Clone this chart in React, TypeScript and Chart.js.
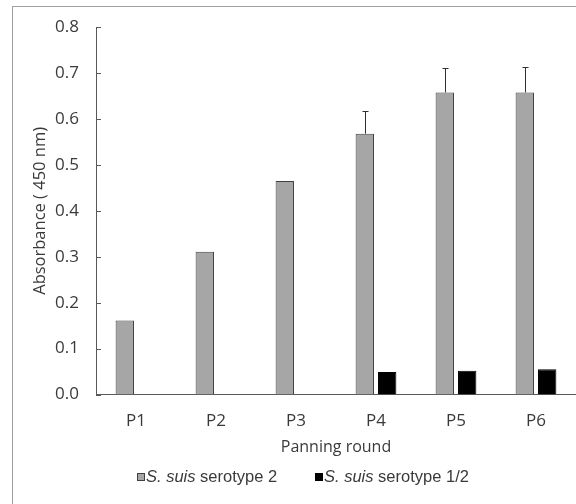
import React, { useEffect, useRef } from "react";
import { Chart, registerables } from "chart.js";

Chart.register(...registerables);

const categories = ["P1", "P2", "P3", "P4", "P5", "P6"];
const serotype2 = [0.161, 0.311, 0.465, 0.568, 0.658, 0.658];
const serotype2Err = [0, 0, 0, 0.049, 0.053, 0.055];
const serotype12 = [null, null, null, 0.049, 0.052, 0.055];
const yTicks = [0, 0.1, 0.2, 0.3, 0.4, 0.5, 0.6, 0.7, 0.8];
const legendLabels = [
  { italic: "S. suis", rest: " serotype 2" },
  { italic: "S. suis", rest: " serotype 1/2" },
];

const TEXT = "#3a3a3a";
const AXIS = "#595959";
const FONT = "'Open Sans', sans-serif";

const framePlugin = {
  id: "frame",
  beforeDraw(chart: any) {
    const ctx = chart.ctx;
    ctx.save();
    ctx.fillStyle = "#ffffff";
    ctx.fillRect(0, 0, chart.width, chart.height);
    ctx.strokeStyle = "#a0a0a0";
    ctx.lineWidth = 1;
    ctx.strokeRect(12.5, 6.5, chart.width + 20, chart.height + 20);
    ctx.restore();
  },
};

const innerTicksPlugin = {
  id: "innerTicks",
  afterDraw(chart: any) {
    const ctx = chart.ctx;
    const ys = chart.scales.y;
    const left = chart.chartArea.left;
    ctx.save();
    ctx.strokeStyle = AXIS;
    ctx.lineWidth = 1;
    yTicks.forEach((v) => {
      const y = Math.round(ys.getPixelForValue(v)) + 0.5;
      ctx.beginPath();
      ctx.moveTo(left, y);
      ctx.lineTo(left + 5, y);
      ctx.stroke();
    });
    ctx.restore();
  },
};

const errorBarPlugin = {
  id: "errorBars",
  afterDatasetsDraw(chart: any) {
    const ctx = chart.ctx;
    const ys = chart.scales.y;
    const meta = chart.getDatasetMeta(0);
    ctx.save();
    ctx.strokeStyle = "#303030";
    ctx.lineWidth = 1;
    meta.data.forEach((bar: any, i: number) => {
      const err = serotype2Err[i];
      if (!err) return;
      const x = Math.round(bar.x) + 0.5;
      const yTop = ys.getPixelForValue(serotype2[i] + err);
      ctx.beginPath();
      ctx.moveTo(x, bar.y);
      ctx.lineTo(x, yTop);
      ctx.moveTo(x - 3, Math.round(yTop) + 0.5);
      ctx.lineTo(x + 3, Math.round(yTop) + 0.5);
      ctx.stroke();
    });
    ctx.restore();
  },
};

const legendPlugin = {
  id: "customLegend",
  afterDraw(chart: any) {
    const ctx = chart.ctx;
    const cy = 477;
    const starts = [137, 315];
    const fills = ["#a6a6a6", "#000000"];
    ctx.save();
    ctx.textBaseline = "middle";
    legendLabels.forEach((lab, i) => {
      const x0 = starts[i];
      ctx.fillStyle = fills[i];
      ctx.fillRect(x0, cy - 4, 8, 8);
      ctx.strokeStyle = i === 0 ? "#404040" : "#000000";
      ctx.lineWidth = 1;
      ctx.strokeRect(x0 + 0.5, cy - 3.5, 7, 7);
      ctx.fillStyle = TEXT;
      ctx.font = "italic 16.5px 'Liberation Sans', Arial, sans-serif";
      let x = x0 + 9;
      ctx.fillText(lab.italic, x, cy);
      x += ctx.measureText(lab.italic).width;
      ctx.font = "16.5px 'Liberation Sans', Arial, sans-serif";
      ctx.fillText(lab.rest, x, cy);
    });
    ctx.restore();
  },
};

export default function App() {
  const ref = useRef<HTMLCanvasElement | null>(null);
  useEffect(() => {
    if (!ref.current) return;
    const chart = new Chart(ref.current, {
      type: "bar",
      data: {
        labels: categories,
        datasets: [
          {
            label: "S. suis serotype 2",
            data: serotype2,
            backgroundColor: "#a6a6a6",
            borderColor: "#404040",
            borderWidth: 1,
            categoryPercentage: 0.56,
            barPercentage: 0.82,
          },
          {
            label: "S. suis serotype 1/2",
            data: serotype12 as any,
            backgroundColor: "#000000",
            borderColor: "#000000",
            borderWidth: 1,
            categoryPercentage: 0.56,
            barPercentage: 0.82,
          },
        ],
      },
      options: {
        responsive: false,
        animation: false,
        layout: { padding: { top: 23, right: 0, bottom: 33, left: 0 } },
        plugins: {
          legend: { display: false },
          tooltip: { enabled: false },
        },
        scales: {
          x: {
            grid: { display: false, drawTicks: false },
            border: { color: AXIS, width: 1 },
            ticks: {
              padding: 16,
              color: TEXT,
              font: { family: FONT, size: 17 },
            },
            title: {
              display: true,
              text: "Panning round",
              color: TEXT,
              font: { family: FONT, size: 16 },
              padding: { top: 4, bottom: 14 },
            },
            afterFit: (s: any) => {
              s.height = 76.5;
            },
          },
          y: {
            min: 0,
            max: 0.8,
            afterBuildTicks: (s: any) => {
              s.ticks = yTicks.map((v) => ({ value: v }));
            },
            grid: { display: false, drawTicks: false },
            border: { color: AXIS, width: 1 },
            ticks: {
              padding: 17,
              color: TEXT,
              font: { family: FONT, size: 17 },
              callback: (v: any) => Number(v).toFixed(1),
            },
            title: {
              display: true,
              text: "Absorbance ( 450 nm)",
              color: TEXT,
              font: { family: FONT, size: 16.5 },
              padding: { top: 30, bottom: 0 },
            },
            afterFit: (s: any) => {
              s.width = 96;
            },
          },
        },
      },
      plugins: [framePlugin, errorBarPlugin, innerTicksPlugin, legendPlugin],
    });
    return () => chart.destroy();
  }, []);
  return (
    <div style={{ position: "absolute", left: 0, top: 0, width: 576, height: 504 }}>
      <canvas ref={ref} width={576} height={504} />
    </div>
  );
}
